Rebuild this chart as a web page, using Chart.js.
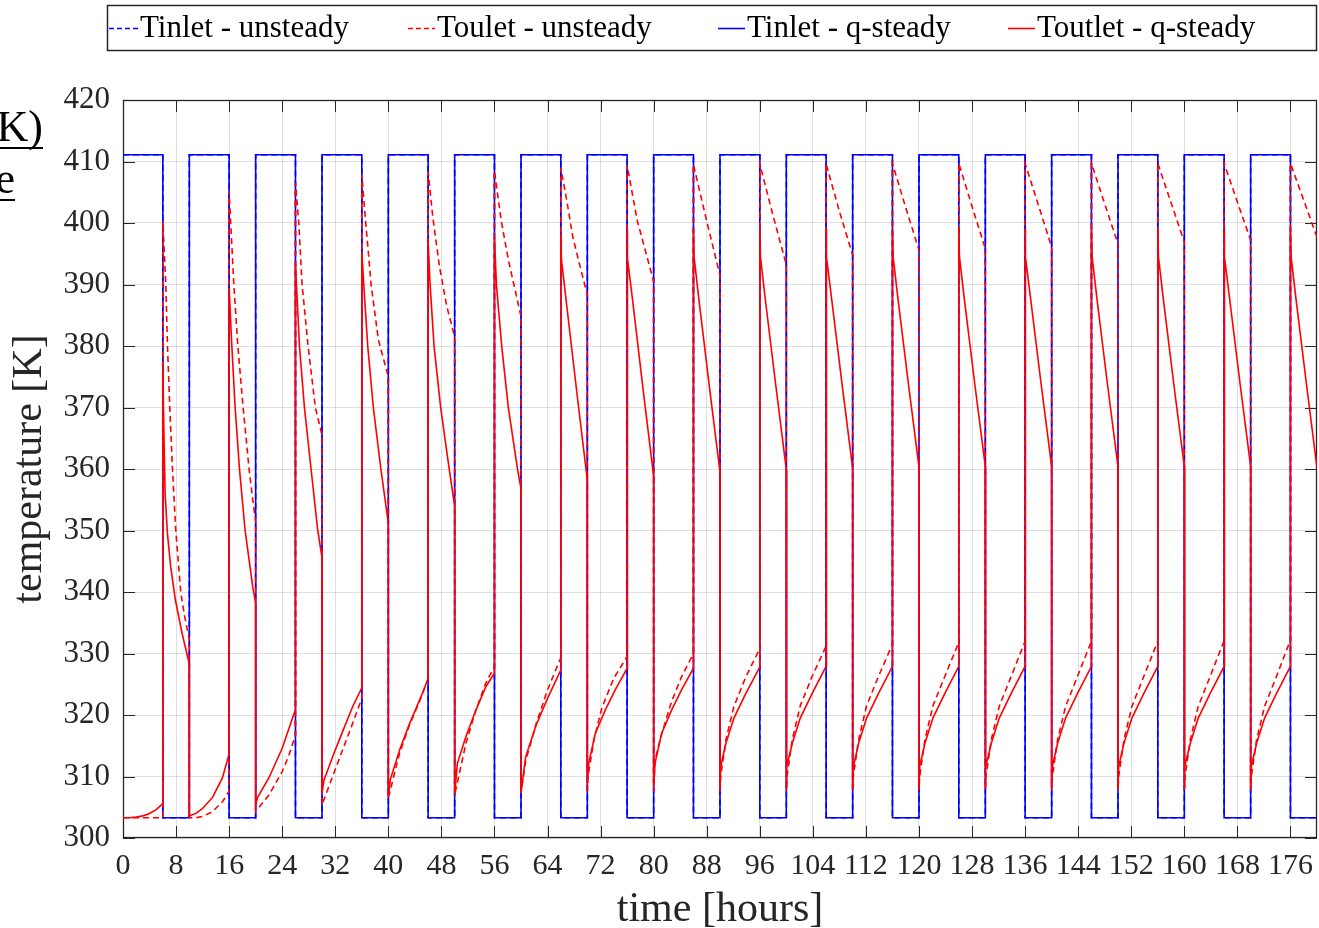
<!DOCTYPE html>
<html><head><meta charset="utf-8">
<script src="https://cdn.jsdelivr.net/npm/chart.js@4.4.1/dist/chart.umd.min.js"></script>
<style>html,body{margin:0;padding:0;background:#fff;overflow:hidden}canvas{display:block}</style>
</head><body>
<canvas id="c" width="1319" height="928"></canvas>
<script>
// ---- data ----
const xTickValues = [0,8,16,24,32,40,48,56,64,72,80,88,96,104,112,120,128,136,144,152,160,168,176];
const yTickValues = [300,310,320,330,340,350,360,370,380,390,400,410,420];
const seriesLabels = ['Tinlet - unsteady','Toulet - unsteady','Tinlet - q-steady','Toutlet - q-steady'];

// inlet temperature: [time h, T K]
const tinletQSteady = [
 [0,411.1],[6,411.1],[6,303.3],[10,303.3],[10,411.1],[16,411.1],[16,303.3],[20,303.3],
 [20,411.1],[26,411.1],[26,303.3],[30,303.3],[30,411.1],[36,411.1],[36,303.3],[40,303.3],
 [40,411.1],[46,411.1],[46,303.3],[50,303.3],[50,411.1],[56,411.1],[56,303.3],[60,303.3],
 [60,411.1],[66,411.1],[66,303.3],[70,303.3],[70,411.1],[76,411.1],[76,303.3],[80,303.3],
 [80,411.1],[86,411.1],[86,303.3],[90,303.3],[90,411.1],[96,411.1],[96,303.3],[100,303.3],
 [100,411.1],[106,411.1],[106,303.3],[110,303.3],[110,411.1],[116,411.1],[116,303.3],[120,303.3],
 [120,411.1],[126,411.1],[126,303.3],[130,303.3],[130,411.1],[136,411.1],[136,303.3],[140,303.3],
 [140,411.1],[146,411.1],[146,303.3],[150,303.3],[150,411.1],[156,411.1],[156,303.3],[160,303.3],
 [160,411.1],[166,411.1],[166,303.3],[170,303.3],[170,411.1],[176,411.1],[176,303.3],[180,303.3]
];
const tinletUnsteady = [
 [0,411.1],[6,411.1],[6,303.3],[10,303.3],[10,411.1],[16,411.1],[16,303.3],[20,303.3],
 [20,411.1],[26,411.1],[26,303.3],[30,303.3],[30,411.1],[36,411.1],[36,303.3],[40,303.3],
 [40,411.1],[46,411.1],[46,303.3],[50,303.3],[50,411.1],[56,411.1],[56,303.3],[60,303.3],
 [60,411.1],[66,411.1],[66,303.3],[70,303.3],[70,411.1],[76,411.1],[76,303.3],[80,303.3],
 [80,411.1],[86,411.1],[86,303.3],[90,303.3],[90,411.1],[96,411.1],[96,303.3],[100,303.3],
 [100,411.1],[106,411.1],[106,303.3],[110,303.3],[110,411.1],[116,411.1],[116,303.3],[120,303.3],
 [120,411.1],[126,411.1],[126,303.3],[130,303.3],[130,411.1],[136,411.1],[136,303.3],[140,303.3],
 [140,411.1],[146,411.1],[146,303.3],[150,303.3],[150,411.1],[156,411.1],[156,303.3],[160,303.3],
 [160,411.1],[166,411.1],[166,303.3],[170,303.3],[170,411.1],[176,411.1],[176,303.3],[180,303.3]
];

// outlet temperature, quasi-steady model
const toutletQSteady = [
 [0,303.3],[1,303.3],[2,303.4],[3,303.6],[4,304.0],[5,304.6],[6,305.6],
 [6,377.5],[6.1,370],[6.2,364],[6.35,356],[6.7,349.5],[7.2,344],[7.9,338.7],[8.9,333.3],[10,328.3],
 [10,303.6],[11,304.0],[12,304.8],[13.5,306.6],[15,309.8],[16,313.7],
 [16,389.4],[16.4,380.2],[16.9,370.1],[17.55,360.1],[18.4,350.1],[19.6,340.5],[20,338.2],
 [20,305.4],[20.3,306.6],[22,309.8],[24,314.6],[26,320.9],
 [26,393.4],[26.15,390],[26.6,380],[27.35,370],[28.35,360],[29.35,350.1],[30,345.6],
 [30,307.3],[30.3,309.4],[31.6,313.2],[33.1,317.3],[34.6,321.3],[36,324.4],
 [36,395.3],[36.3,389.9],[36.9,379.9],[37.75,369.9],[38.9,359.8],[40,351.2],
 [40,306.8],[40.3,309.5],[41.7,314.3],[43.2,318.6],[44.7,322.4],[46,325.9],
 [46,397.0],[46.3,389.9],[46.9,379.9],[47.9,369.9],[49.2,359.8],[50,354.0],
 [50,307.0],[50.4,312.1],[51.7,316.5],[53.2,320.8],[54.7,324.6],[56,326.8],
 [56,397.5],[56.3,389.9],[57.1,379.9],[58.1,369.9],[59.5,359.8],[60,356.8],
 [60,307.3],[60.7,313.2],[62.3,318.4],[64.0,322.7],[66,327.3],
 [66,398.3],[66.1,394],[66.85,387],[68.4,372.6],[70,358.2],
 [70,308.9],[70.2,312.1],[71.2,317.0],[72.7,320.8],[74.2,324.1],[76,327.6],
 [76,398.9],[76.1,394.3],[76.85,387.2],[78.4,373.0],[80,358.8],
 [80,308.5],[80.2,312.1],[81.2,317.0],[82.7,320.8],[84.2,324.1],[86,327.6],
 [86,399.0],[86.1,394.4],[86.85,387.3],[88.4,373.4],[90,359.5],
 [90,308.2],[90.1,311.6],[90.9,315.4],[92.1,319.5],[93.9,323.5],[96,327.8],
 [96,399.1],[96.1,394.5],[96.85,387.4],[98.4,373.7],[100,359.9],
 [100,308.1],[100.1,311.6],[100.9,315.4],[102.1,319.5],[103.9,323.5],[106,327.9],
 [106,399.1],[106.1,394.5],[106.85,387.5],[108.4,373.8],[110,360.1],
 [110,308.1],[110.1,311.6],[110.9,315.4],[112.1,319.5],[113.9,323.5],[116,327.9],
 [116,399.1],[116.1,394.5],[116.85,387.5],[118.4,373.9],[120,360.3],
 [120,308.1],[120.1,311.6],[120.9,315.4],[122.1,319.5],[123.9,323.5],[126,327.9],
 [126,399.1],[126.1,394.5],[126.85,387.5],[128.4,373.9],[130,360.4],
 [130,308.1],[130.1,311.6],[130.9,315.4],[132.1,319.5],[133.9,323.5],[136,327.9],
 [136,399.1],[136.1,394.5],[136.85,387.5],[138.4,373.9],[140,360.4],
 [140,308.1],[140.1,311.6],[140.9,315.4],[142.1,319.5],[143.9,323.5],[146,327.9],
 [146,399.1],[146.1,394.5],[146.85,387.5],[148.4,373.9],[150,360.4],
 [150,308.1],[150.1,311.6],[150.9,315.4],[152.1,319.5],[153.9,323.5],[156,327.9],
 [156,399.1],[156.1,394.5],[156.85,387.5],[158.4,373.9],[160,360.4],
 [160,308.1],[160.1,311.6],[160.9,315.4],[162.1,319.5],[163.9,323.5],[166,327.9],
 [166,399.1],[166.1,394.5],[166.85,387.5],[168.4,373.9],[170,360.4],
 [170,308.1],[170.1,311.6],[170.9,315.4],[172.1,319.5],[173.9,323.5],[176,327.9],
 [176,399.1],[176.1,394.5],[176.85,387.5],[178.4,373.9],[180,360.2]
];

// outlet temperature, unsteady model
const toutletUnsteady = [
 [0,303.3],[6,303.3],
 [6,400.2],[6.45,390.2],[6.7,380.2],[7.05,370.1],[7.45,360.1],[7.95,350.1],[8.7,340],[9.3,336],[10,332.3],
 [10,303.3],[11,303.3],[12,303.5],[13.5,304.3],[15,305.9],[16,307.6],
 [16,405.1],[16.7,390.2],[17.3,380.2],[18.1,370.1],[19.0,360.1],[19.5,355.5],[20,351.5],
 [20,304.3],[22,307.0],[24,310.8],[25,313.4],[26,316.7],
 [26,406.5],[26.5,400],[27.0,390],[27.9,380],[29.0,370],[30,365.5],
 [30,305.4],[31.6,310.0],[33.1,314.3],[34.6,318.6],[36,322.7],
 [36,407.8],[36.6,400],[37.4,390],[38.5,381],[40,375.0],
 [40,306.5],[41.7,313.8],[43.2,318.4],[44.7,322.2],[46,325.9],
 [46,408.3],[46.7,401],[47.7,393],[48.8,386.5],[50,381.5],
 [50,307.0],[51.7,315.4],[53.2,320.8],[54.7,325.2],[56,327.9],
 [56,408.5],[57,400.5],[58.1,394],[60,384.8],
 [60,307.3],[60.7,312.5],[62.3,318.6],[64.0,324.1],[66,329.3],
 [66,408.9],[66.8,404.3],[67.8,397.8],[68.8,393.4],[70,388.3],
 [70,307.5],[70.1,310],[71,316],[72.2,321.2],[74,326],[76,329.5],
 [76,409.4],[77.5,400.5],[80,390.5],
 [80,307.5],[80.2,312.7],[81.2,316.9],[82.7,322.2],[84.2,326.2],[86,330.0],
 [86,409.5],[88,400.3],[90,391.5],
 [90,307.5],[90.1,310],[90.9,316],[92.1,321.4],[93.9,326.2],[96,330.8],
 [96,409.6],[98,401.2],[100,393.2],
 [100,307.6],[100.1,310],[100.9,316],[102.1,321.5],[103.9,326.3],[106,331.2],
 [106,409.6],[108,401.9],[110,394.8],
 [110,307.7],[110.1,310],[110.9,316],[112.1,321.5],[113.9,326.3],[116,331.5],
 [116,409.7],[118,402.5],[120,395.6],
 [120,307.7],[120.1,310],[120.9,316],[122.1,321.5],[123.9,326.3],[126,331.8],
 [126,409.7],[128,402.7],[130,395.8],
 [130,307.8],[130.1,310],[130.9,316],[132.1,321.4],[133.9,326.3],[136,332.0],
 [136,409.7],[138,402.9],[140,396.1],
 [140,307.8],[140.1,310],[140.9,316],[142.1,321.4],[143.9,326.3],[146,332.0],
 [146,409.7],[148,403.1],[150,396.6],
 [150,307.8],[150.1,310],[150.9,316],[152.1,321.4],[153.9,326.3],[156,332.0],
 [156,409.7],[158,403.3],[160,396.9],
 [160,307.8],[160.1,310],[160.9,316],[162.1,321.4],[163.9,326.3],[166,332.1],
 [166,409.7],[168,403.4],[170,397.2],
 [170,307.8],[170.1,310],[170.9,316],[172.1,321.4],[173.9,326.3],[176,332.2],
 [176,409.7],[178,403.7],[180,397.7]
];

// ---- chart ----
const FONT = "'Liberation Serif', 'Times New Roman', serif";
const INK = '#262626';
const toXY = arr => arr.map(p => ({x: p[0], y: p[1]}));

const datasets = [
  {label: seriesLabels[0], data: toXY(tinletUnsteady), borderColor: '#0000ff', borderDash: [6,4], order: 3},
  {label: seriesLabels[1], data: toXY(toutletUnsteady), borderColor: '#ff0000', borderDash: [6,4], order: 1},
  {label: seriesLabels[2], data: toXY(tinletQSteady), borderColor: '#0000ff', order: 2},
  {label: seriesLabels[3], data: toXY(toutletQSteady), borderColor: '#ff0000', order: 0}
].map(d => Object.assign({borderWidth: 1.6, pointRadius: 0, fill: false, tension: 0}, d));

const framePlugin = {
  id: 'frame',
  beforeDatasetsDraw(chart) {
    const {ctx, chartArea: a, scales: {x, y}} = chart;
    ctx.save();
    ctx.strokeStyle = INK;
    ctx.lineWidth = 1;
    const L = 12;
    ctx.beginPath();
    xTickValues.forEach(v => {
      const px = Math.round(x.getPixelForValue(v)) + 0.5;
      ctx.moveTo(px, a.bottom); ctx.lineTo(px, a.bottom - L);
      ctx.moveTo(px, a.top); ctx.lineTo(px, a.top + L);
    });
    yTickValues.forEach(v => {
      const py = Math.round(y.getPixelForValue(v)) + 0.5;
      ctx.moveTo(a.left, py); ctx.lineTo(a.left + L, py);
      ctx.moveTo(a.right, py); ctx.lineTo(a.right - L, py);
    });
    ctx.stroke();
    ctx.lineWidth = 1.3;
    ctx.strokeRect(a.left + 0.5, a.top + 0.5, a.right - a.left - 1, a.bottom - a.top - 1);
    ctx.restore();
  },
  afterDraw(chart) {
    const ctx = chart.ctx;
    ctx.save();
    // legend box
    ctx.fillStyle = '#fff';
    ctx.fillRect(107, 5, 1210, 45);
    ctx.strokeStyle = INK;
    ctx.lineWidth = 1.5;
    ctx.strokeRect(107.5, 5.5, 1209, 45);
    const items = [
      {ds: chart.data.datasets[0], x0: 109, x1: 138, tx: 140},
      {ds: chart.data.datasets[1], x0: 408, x1: 435, tx: 437},
      {ds: chart.data.datasets[2], x0: 718, x1: 745, tx: 747},
      {ds: chart.data.datasets[3], x0: 1008, x1: 1035, tx: 1037}
    ];
    items.forEach(it => {
      ctx.beginPath();
      ctx.strokeStyle = it.ds.borderColor;
      ctx.lineWidth = 1.6;
      ctx.setLineDash(it.ds.borderDash ? [5,3] : []);
      ctx.moveTo(it.x0, 28.5); ctx.lineTo(it.x1, 28.5);
      ctx.stroke();
      ctx.setLineDash([]);
      ctx.fillStyle = '#000';
      ctx.font = "31px " + FONT;
      ctx.textBaseline = 'alphabetic';
      ctx.textAlign = 'left';
      ctx.fillText(it.ds.label, it.tx, 37);
    });
    // stray underlined text at the left edge of the original figure
    ctx.fillStyle = '#000';
    ctx.font = "44px " + FONT;
    ctx.textAlign = 'right';
    ctx.fillText('K)', 43, 141);
    ctx.fillText('e', 15, 193);
    ctx.fillRect(0, 147, 43, 2);
    ctx.fillRect(0, 199, 15, 2);
    ctx.restore();
  }
};

new Chart(document.getElementById('c'), {
  type: 'line',
  data: {datasets},
  options: {
    responsive: false,
    animation: false,
    devicePixelRatio: 1,
    layout: {padding: {top: 100, right: 2, left: 0, bottom: 0}},
    plugins: {legend: {display: false}, tooltip: {enabled: false}},
    scales: {
      x: {
        type: 'linear', min: 0, max: 180,
        afterBuildTicks: s => { s.ticks = xTickValues.map(v => ({value: v})); },
        afterFit: s => { s.height = 90; },
        ticks: {font: {family: FONT, size: 30, lineHeight: 1.45}, color: INK, padding: 6, maxRotation: 0, autoSkip: false},
        grid: {color: 'rgba(38,38,38,0.15)', lineWidth: 1, drawTicks: false},
        border: {display: false},
        title: {display: true, text: 'time [hours]', color: INK, font: {family: FONT, size: 42, lineHeight: 0.84}, padding: 0}
      },
      y: {
        type: 'linear', min: 300, max: 420,
        afterBuildTicks: s => { s.ticks = yTickValues.map(v => ({value: v})); },
        afterFit: s => { s.width = 123; },
        ticks: {font: {family: FONT, size: 31}, color: INK, padding: 13, autoSkip: false},
        grid: {color: 'rgba(38,38,38,0.15)', lineWidth: 1, drawTicks: false},
        border: {display: false},
        title: {display: true, text: 'temperature [K]', color: INK, font: {family: FONT, size: 42, lineHeight: 1.45}, padding: 0}
      }
    }
  },
  plugins: [framePlugin]
});
</script>
</body></html>
